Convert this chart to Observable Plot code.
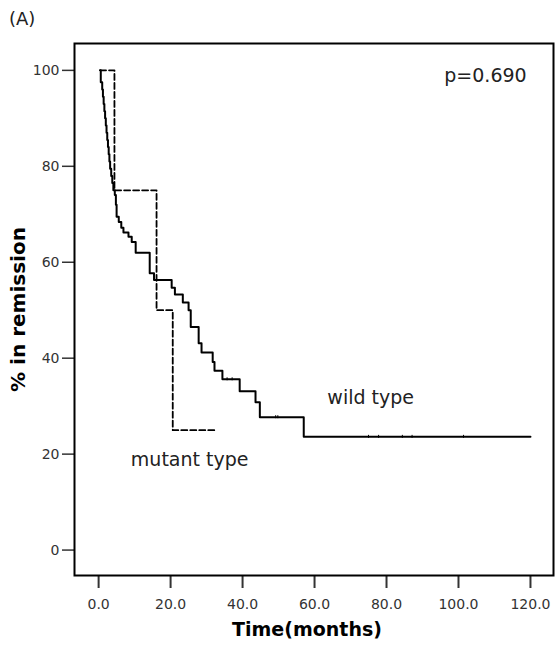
<!DOCTYPE html>
<html>
<head>
<meta charset="utf-8">
<script src="https://cdn.jsdelivr.net/npm/d3@7"></script>
<script src="https://cdn.jsdelivr.net/npm/@observablehq/plot@0.6"></script>
<style>
  body { margin: 0; background: #fff; font-family: "DejaVu Sans", sans-serif; }
  #wrap { position: relative; width: 556px; height: 646px; }
  #tag { position: absolute; left: 9px; top: 8px; font-size: 18px; color: #222; }
  #chart { position: absolute; left: 0; top: 30px; }
</style>
</head>
<body>
<div id="wrap">
  <div id="tag">(A)</div>
  <div id="chart"></div>
</div>
<script>
// Wild type Kaplan-Meier curve (time in months, % in remission)
const wildTime = [0.4, 0.6, 1.0, 1.2, 1.4, 1.6, 1.8, 2.0, 2.2, 2.4, 2.6, 2.8, 3.0, 3.2, 3.5, 3.8, 4.1, 4.5, 4.8, 5.0, 5.6, 6.3, 6.9, 8.3, 9.2, 10.3, 14.2, 15.4, 20.3, 21.2, 23.4, 25.0, 25.6, 27.8, 28.6, 31.7, 32.2, 34.4, 39.2, 43.6, 44.8, 57.0, 120];
const wildSurv = [100, 97.5, 96, 94.5, 93, 91.5, 90, 88.5, 87, 85.5, 84, 82.5, 81, 79.5, 78, 76.5, 75, 74, 72, 69.5, 68.4, 67.2, 66.2, 65.3, 64.2, 62.0, 57.7, 56.3, 54.7, 53.3, 51.6, 50.0, 46.5, 43.1, 41.2, 39.2, 37.4, 35.6, 33.1, 30.8, 27.7, 23.6, 23.6];
// Censored observations on the wild type curve
const censorTime = [35.7, 37.1, 49.2, 49.8, 75.0, 77.8, 84.4, 87.1, 101.4];
const censorSurv = [35.6, 35.6, 27.7, 27.7, 23.6, 23.6, 23.6, 23.6, 23.6];
// Mutant type curve
const mutTime = [0.4, 4.4, 16.1, 20.6, 32.2];
const mutSurv = [100, 75, 50, 25, 25];

const xTicks = [0, 20, 40, 60, 80, 100, 120];
const yTicks = [0, 20, 40, 60, 80, 100];

const wild = wildTime.map((t, i) => ({t, s: wildSurv[i]}));
const mutant = mutTime.map((t, i) => ({t, s: mutSurv[i]}));
const censor = censorTime.map((t, i) => ({t, s: censorSurv[i]}));

const annotations = [
  {t: 107.5, s: 98.8, label: "p=0.690"},
  {t: 75.6, s: 31.7, label: "wild type"},
  {t: 25.3, s: 18.8, label: "mutant type"}
];

const chart = Plot.plot({
  width: 556,
  height: 616,
  marginTop: 13,
  marginBottom: 71,
  marginLeft: 74,
  marginRight: 3,
  style: {fontFamily: "DejaVu Sans, sans-serif", background: "#fff"},
  x: {domain: [-6.7, 126.4]},
  y: {domain: [-5.3, 105.6]},
  marks: [
    Plot.axisX({ticks: xTicks, tickFormat: d3.format(".1f"), tickSize: 13, tickPadding: 11,
      strokeWidth: 2, fontSize: 14, color: "#333", label: null}),
    Plot.axisY({ticks: yTicks, tickFormat: d3.format("d"), tickSize: 12, tickPadding: 3,
      strokeWidth: 1.5, fontSize: 14, color: "#333", label: null}),
    Plot.frame({stroke: "#000", strokeWidth: 2}),
    Plot.line(mutant, {x: "t", y: "s", curve: "step-after", stroke: "#000", strokeWidth: 1.8, strokeDasharray: "6,3"}),
    Plot.line(wild, {x: "t", y: "s", curve: "step-after", stroke: "#000", strokeWidth: 2}),
    Plot.ruleX(censor, {x: "t", y1: "s", y2: "s", insetTop: -1.5, insetBottom: -1.5, stroke: "#000", strokeWidth: 1}),
    Plot.text(annotations, {x: "t", y: "s", text: "label", fontSize: 19, fill: "#222"}),
    Plot.text(["Time(months)"], {frameAnchor: "bottom", dy: 60, dx: -7, fontSize: 19, fontWeight: "bold", fill: "#000"}),
    Plot.text(["% in remission"], {frameAnchor: "left", textAnchor: "middle", dx: -56, rotate: -90, fontSize: 20, fontWeight: "bold", fill: "#000"})
  ]
});
document.getElementById("chart").appendChild(chart);
</script>
</body>
</html>
